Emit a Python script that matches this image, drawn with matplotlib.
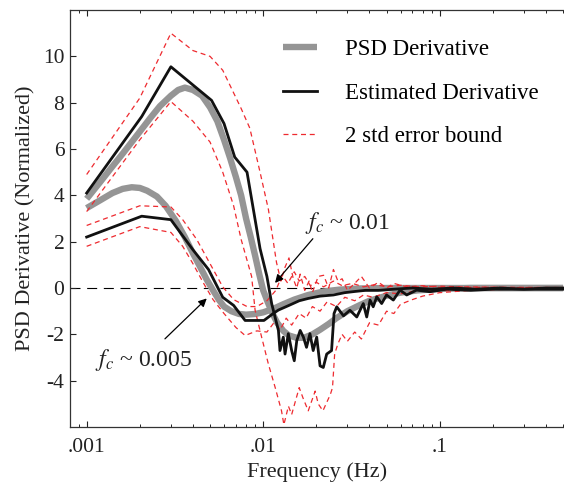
import matplotlib
matplotlib.use('Agg')
import matplotlib.pyplot as plt
from matplotlib.ticker import FixedLocator, FixedFormatter, LogLocator, NullFormatter

plt.rcParams['font.family'] = ['Liberation Serif', 'DejaVu Serif']
plt.rcParams['mathtext.fontset'] = 'stix'
plt.rcParams['axes.unicode_minus'] = False

# PSD derivative, fc ~ 0.01
psd_hi_f = [0.001, 0.0012, 0.0014, 0.0016, 0.0018, 0.002, 0.0023, 0.0026, 0.003, 0.0033,
            0.0036, 0.004, 0.0045, 0.005, 0.0055, 0.006, 0.0065, 0.007, 0.0075, 0.008,
            0.0085, 0.009, 0.0095, 0.01, 0.0106, 0.0113, 0.012, 0.013, 0.014, 0.0155,
            0.017, 0.019, 0.021, 0.0235, 0.026, 0.03, 0.035, 0.04, 0.05, 0.06,
            0.075, 0.1, 0.15, 0.5]
psd_hi_v = [3.85, 4.6, 5.25, 5.8, 6.3, 6.75, 7.35, 7.85, 8.3, 8.55,
            8.65, 8.55, 8.3, 7.8, 7.2, 6.4, 5.6, 4.8, 4.0, 3.0,
            2.2, 1.4, 0.6, -0.1, -0.6, -1.1, -1.5, -1.85, -2.05, -2.15,
            -2.15, -2.0, -1.8, -1.55, -1.3, -1.0, -0.75, -0.55, -0.33, -0.2,
            -0.1, -0.04, 0.0, 0.0]

# PSD derivative, fc ~ 0.005
psd_lo_f = [0.001, 0.0012, 0.0014, 0.0016, 0.0018, 0.002, 0.0022, 0.0025, 0.0028, 0.0032,
            0.0036, 0.004, 0.0044, 0.0048, 0.0052, 0.0056, 0.006, 0.0066, 0.0073, 0.008,
            0.009, 0.01, 0.0114, 0.013, 0.015, 0.018, 0.022, 0.027, 0.035, 0.05, 0.5]
psd_lo_v = [3.45, 3.8, 4.1, 4.28, 4.35, 4.32, 4.2, 3.95, 3.55, 2.9,
            2.2, 1.5, 0.9, 0.35, -0.1, -0.5, -0.8, -1.0, -1.12, -1.15,
            -1.12, -1.05, -0.9, -0.7, -0.5, -0.3, -0.15, -0.07, -0.02, 0.0, 0.0]

# estimated derivative, fc ~ 0.01
est_hi_f = [0.001, 0.00205, 0.003, 0.0051, 0.006, 0.0069, 0.0081, 0.0096, 0.0105, 0.01117,
            0.01167, 0.0122, 0.01245, 0.013, 0.0133, 0.01388, 0.0145, 0.015, 0.0155, 0.0162,
            0.0169, 0.0176, 0.0184, 0.0192, 0.0201, 0.021, 0.0219, 0.0229, 0.0244, 0.0252,
            0.0261, 0.0285, 0.031, 0.0339, 0.0369, 0.0386, 0.0403, 0.042, 0.044, 0.0469,
            0.050, 0.0546, 0.0596, 0.065, 0.074, 0.088, 0.11, 0.15, 0.2, 0.3, 0.5]
est_hi_v = [4.1, 7.4, 9.55, 8.1, 7.1, 5.65, 5.0, 1.7, 0.5, -0.67,
            -1.25, -1.83, -2.7, -2.12, -2.85, -1.97, -2.7, -3.14, -2.27, -1.83,
            -2.12, -2.56, -1.97, -2.7, -2.12, -3.36, -3.43, -2.85, -2.7, -1.1,
            -0.81, -1.2, -0.96, -1.25, -0.67, -1.25, -0.52, -0.81, -0.38, -0.67,
            -0.3, -0.52, -0.09, -0.3, -0.09, -0.16, -0.05, -0.1, -0.05, -0.05, -0.05]

# estimated derivative, fc ~ 0.005
est_lo_f = [0.001, 0.00205, 0.003, 0.004, 0.0049, 0.0059, 0.0068, 0.0079, 0.0101, 0.0114,
            0.0122, 0.014, 0.016, 0.018, 0.021, 0.025, 0.029, 0.033, 0.038, 0.045,
            0.055, 0.07, 0.09, 0.12, 0.16, 0.22, 0.3, 0.4, 0.5]
est_lo_v = [2.2, 3.1, 2.95, 1.65, 0.8, -0.4, -0.75, -1.4, -1.4, -1.1,
            -0.95, -0.75, -0.55, -0.45, -0.35, -0.3, -0.2, -0.15, -0.1, -0.1,
            -0.05, 0.0, -0.05, 0.0, -0.05, 0.0, -0.05, 0.0, 0.0]

# 2 std error bounds, fc ~ 0.01
hi_u_f = [0.001, 0.002, 0.003, 0.004, 0.005, 0.0059, 0.0075, 0.0084, 0.0096, 0.0107,
          0.0119, 0.0126, 0.0133, 0.014, 0.0148, 0.0155, 0.0162, 0.0172, 0.0182, 0.019,
          0.0205, 0.022, 0.0235, 0.025, 0.0265, 0.028, 0.03, 0.033, 0.036, 0.04,
          0.045, 0.05, 0.055, 0.065, 0.08, 0.1, 0.15, 0.25, 0.5]
hi_u_v = [4.9, 8.2, 11.0, 10.25, 10.0, 9.4, 7.75, 6.9, 5.0, 3.4,
          1.1, 0.3, 0.9, 1.3, 0.4, 0.0, 0.6, -0.1, 0.3, -0.2,
          0.5, 0.55, 0.0, 0.8, 0.3, 0.4, -0.1, 0.2, 0.5, 0.0,
          0.25, 0.0, 0.2, 0.05, 0.1, 0.03, 0.05, 0.02, 0.02]
hi_l_f = [0.001, 0.002, 0.003, 0.004, 0.005, 0.0059, 0.0068, 0.0075, 0.0086, 0.009,
          0.0098, 0.0107, 0.0117, 0.0127, 0.0131, 0.0139, 0.0145, 0.016, 0.0168, 0.018,
          0.0197, 0.0205, 0.0218, 0.024, 0.0247, 0.0254, 0.0265, 0.028, 0.03, 0.033,
          0.036, 0.04, 0.045, 0.05, 0.055, 0.06, 0.07, 0.08, 0.1, 0.15, 0.25, 0.5]
hi_l_v = [3.3, 6.4, 8.05, 7.2, 6.3, 5.0, 3.55, 2.1, 0.5, -0.96,
          -2.12, -3.28, -4.3, -5.3, -5.9, -5.1, -5.46, -4.3, -4.74, -5.3,
          -4.45, -5.0, -5.3, -4.6, -4.3, -2.85, -2.41, -2.0, -2.3, -1.9,
          -2.2, -1.5, -1.6, -1.0, -1.1, -0.7, -0.5, -0.35, -0.2, -0.1, -0.05, -0.05]

# 2 std error bounds, fc ~ 0.005
lo_u_f = [0.001, 0.002, 0.003, 0.0035, 0.0042, 0.005, 0.0059, 0.0068, 0.0081, 0.0092,
          0.0105, 0.0118, 0.0128, 0.0138, 0.015, 0.016, 0.0172, 0.0185, 0.02, 0.022,
          0.025, 0.028, 0.032, 0.037, 0.043, 0.05, 0.06, 0.075, 0.1, 0.15, 0.25, 0.5]
lo_u_v = [2.7, 3.55, 3.5, 2.95, 2.1, 1.05, 0.05, -0.5, -0.8, -0.8,
          -0.55, -0.1, 0.55, 0.2, 0.7, 0.3, 0.5, 0.1, 0.25, 0.05,
          0.3, 0.1, 0.2, 0.05, 0.15, 0.05, 0.12, 0.05, 0.08, 0.03, 0.03, 0.02]
lo_l_f = [0.001, 0.002, 0.003, 0.0035, 0.004, 0.0046, 0.0052, 0.006, 0.007, 0.0079,
          0.0092, 0.0105, 0.0115, 0.0125, 0.0135, 0.0145, 0.016, 0.0175, 0.019, 0.021,
          0.023, 0.026, 0.029, 0.033, 0.037, 0.042, 0.05, 0.06, 0.075, 0.1, 0.15, 0.25, 0.5]
lo_l_v = [1.8, 2.65, 2.4, 1.8, 1.05, 0.2, -0.5, -1.1, -1.7, -2.05,
          -1.85, -1.9, -1.5, -1.8, -1.3, -1.6, -1.1, -1.3, -0.8, -1.0,
          -0.6, -0.8, -0.4, -0.55, -0.3, -0.4, -0.2, -0.25, -0.1, -0.12, -0.05, -0.05, -0.03]

gray = '#959595'
red = '#ee2a2f'
dash = (0, (4, 3))

fig = plt.figure(figsize=(5.64, 4.91), dpi=100)
ax = fig.add_axes([0.124, 0.1303, 0.876, 0.8493])

ax.axhline(0, color='black', lw=0.8, linestyle=(0, (9, 6)), zorder=1)

ax.plot(psd_hi_f, psd_hi_v, color=gray, lw=4.6, solid_capstyle='butt', solid_joinstyle='round',
        label='PSD Derivative', zorder=2)
ax.plot(psd_lo_f, psd_lo_v, color=gray, lw=4.6, solid_capstyle='butt', solid_joinstyle='round', zorder=2)

ax.plot(hi_u_f, hi_u_v, color=red, lw=0.9, linestyle=dash, label='2 std error bound', zorder=3)
ax.plot(hi_l_f, hi_l_v, color=red, lw=0.9, linestyle=dash, zorder=3)
ax.plot(lo_u_f, lo_u_v, color=red, lw=0.9, linestyle=dash, zorder=3)
ax.plot(lo_l_f, lo_l_v, color=red, lw=0.9, linestyle=dash, zorder=3)

ax.plot(est_hi_f, est_hi_v, color='#111111', lw=2.0, label='Estimated Derivative', zorder=4)
ax.plot(est_lo_f, est_lo_v, color='#111111', lw=2.0, zorder=4)

ax.set_xscale('log')
ax.set_xlim(0.000804, 0.506)
ax.set_ylim(-6, 12)

ax.xaxis.set_major_locator(FixedLocator([0.001, 0.01, 0.1]))
ax.xaxis.set_major_formatter(FixedFormatter(['.001', '.01', '.1']))
ax.xaxis.set_minor_locator(LogLocator(base=10, subs=range(2, 10)))
ax.xaxis.set_minor_formatter(NullFormatter())
ax.set_yticks([-4, -2, 0, 2, 4, 6, 8, 10])

ax.tick_params(which='both', direction='in', top=True, right=False, labelsize=15.5, colors='#222222')
ax.tick_params(which='major', length=4, width=0.8)
ax.tick_params(which='minor', length=2.5, width=0.7)
ax.tick_params(axis='x', pad=8)
ax.tick_params(axis='y', pad=4)
ax.spines['right'].set_visible(False)
for s in ['left', 'top', 'bottom']:
    ax.spines[s].set_linewidth(0.9)
    ax.spines[s].set_color('#333333')

ax.set_xlabel('Frequency (Hz)', fontsize=16, color='#222222', labelpad=4)
ax.set_ylabel('PSD Derivative (Normalized)', fontsize=16, color='#222222', labelpad=5)

ax.annotate(r'$f_c$ ~ 0.01', xy=(0.01167, 0.22), xytext=(0.01726, 2.55),
            fontsize=17, color='#222222', va='baseline',
            arrowprops=dict(arrowstyle='-|>', color='black', lw=0.9,
                            shrinkA=0, shrinkB=0, mutation_scale=12,
                            relpos=(0.12, 0.0)))
ax.annotate(r'$f_c$ ~ 0.005', xy=(0.00479, -0.45), xytext=(0.001114, -3.35),
            fontsize=17, color='#222222', va='baseline',
            arrowprops=dict(arrowstyle='-|>', color='black', lw=0.9,
                            shrinkA=0, shrinkB=0, mutation_scale=12,
                            relpos=(0.72, 1.3)))

h, l = ax.get_legend_handles_labels()
order = [0, 2, 1]
ax.legend([h[i] for i in order], [l[i] for i in order], loc='upper left',
          bbox_to_anchor=(283 / 564, 1 - 39 / 491), bbox_transform=fig.transFigure,
          frameon=False, fontsize=16.5, handlelength=1.5, handletextpad=1.2,
          labelspacing=0.98, borderpad=0, borderaxespad=0)

fig.savefig('out.png', dpi=100)
